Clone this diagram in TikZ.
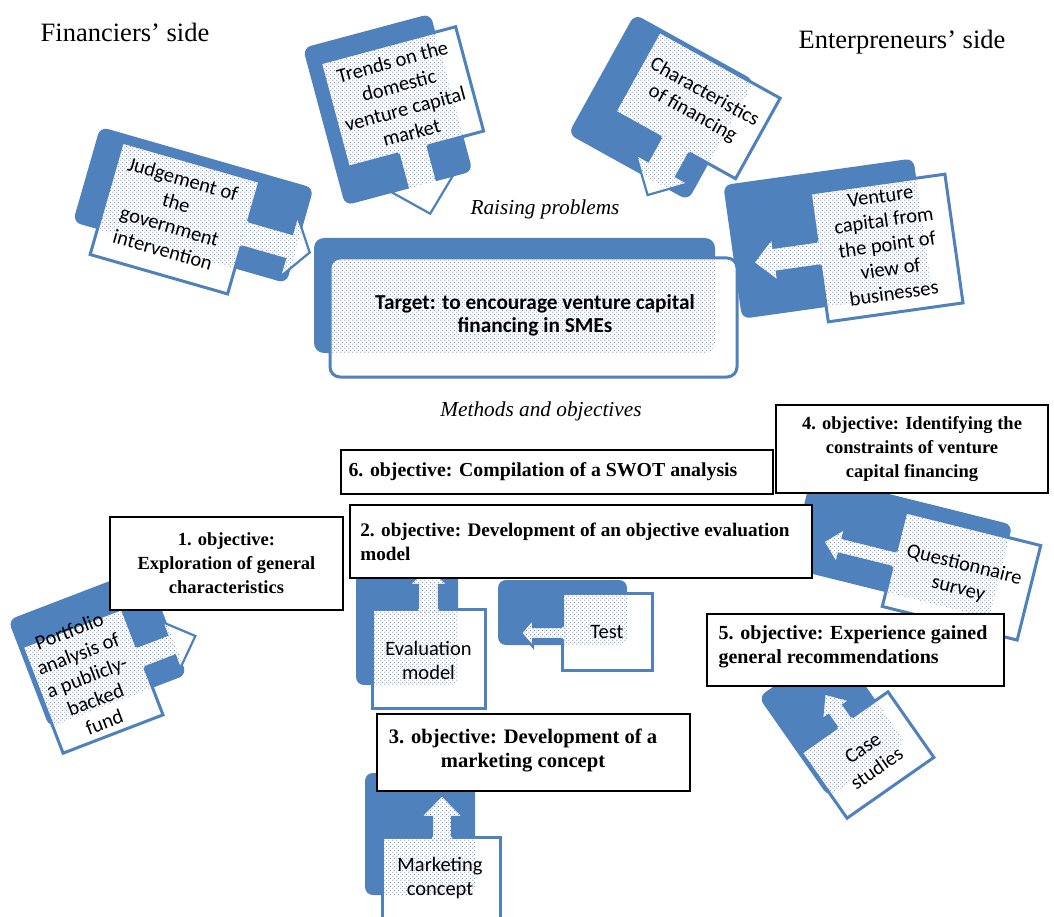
\documentclass[tikz,border=0pt]{standalone}
\usepackage{fontspec}
\setmainfont{Liberation Serif}
\newfontfamily\calfont{Carlito}
\usetikzlibrary{patterns}
\definecolor{bl}{HTML}{4F81BD}
\definecolor{dotc}{HTML}{6E91C9}
\pgfdeclarepatternformonly{mydots}{\pgfqpoint{0pt}{0pt}}{\pgfqpoint{4pt}{4pt}}{\pgfqpoint{4pt}{4pt}}{%
  \pgfpathcircle{\pgfqpoint{1pt}{1pt}}{0.75pt}%
  \pgfpathcircle{\pgfqpoint{3pt}{3pt}}{0.75pt}%
  \pgfusepath{fill}}
\tikzset{
  backbox/.style={fill=bl, rounded corners=8pt},
  frontbox/.style={draw=bl, line width=3pt, fill=white},
  dotfill/.style={pattern=mydots, pattern color=dotc},
  ctext/.style={font=\calfont\fontsize{20.5}{24.5}\selectfont, align=center, inner sep=0pt},
  objbox/.style={draw=black, line width=1.6pt, fill=white, inner sep=0pt, align=center},
  objtext/.style={inner sep=0pt, align=center},
  aline/.style={draw=bl, line width=2.2pt, line join=miter},
  title/.style={font=\fontsize{26.5}{30}\selectfont, inner sep=0pt},
  subtitle/.style={font=\itshape\fontsize{21.3}{24}\selectfont, inner sep=0pt},
}
\newcommand\objfont[1]{\bfseries\fontsize{#1}{24}\selectfont}
\newcommand\arrshape[5]{\path[#1] (-4,-#3) -- ({#2-#5},-#3) -- ({#2-#5},-#4) -- (#2,0) -- ({#2-#5},#4) -- ({#2-#5},#3) -- (-4,#3) -- cycle;}
\newcommand\arroutline[5]{\path[#1] (0,-#3) -- ({#2-#5},-#3) -- ({#2-#5},-#4) -- (#2,0) -- ({#2-#5},#4) -- ({#2-#5},#3) -- (0,#3);}
\newcommand\callout[9]{%
  \begin{scope}[shift={#1},rotate=#2]
    \fill[backbox] #5;
    \filldraw[frontbox] (-#3,-#4) rectangle (#3,#4);
    \begin{scope}[#6]\arrshape{fill=white}#7\end{scope}
    \begin{scope}
      \clip[rounded corners=8pt] #5;
      \fill[dotfill] ({-#3+1.6},{-#4+1.6}) rectangle ({#3-1.6},{#4-1.6});
      \begin{scope}[#6]\arrshape{dotfill}#7\end{scope}
    \end{scope}
    \begin{scope}[#6]\arroutline{aline}#7\end{scope}
    \node[ctext,rotate=#2] #8 {#9};
  \end{scope}}

\begin{document}
\begin{tikzpicture}[x=1pt,y=-1pt]
\useasboundingbox (0,0) rectangle (1054,917);
\fill[white] (0,0) rectangle (1054,917);

% upper callouts
\callout{(175,218)}{-16}{71.5}{58.5}{(-97,-67) rectangle (125,32)}{shift={(71.5,-4)}}{{67.5}{13}{32}{22}}{(judge) at (-3,-3)}{Judgement of\\the\\government\\intervention}
\callout{(402,97)}{15}{70}{54}{(-83,-73) rectangle (49,90)}{shift={(-3,54)},rotate=-90}{{66}{15}{32}{31}}{(trends) at (0,0)}{Trends on the\\domestic\\venture capital\\market}
\callout{(697.5,105)}{-29}{69}{46}{(-99,-49) rectangle (38,88)}{shift={(0,46)},rotate=-90}{{57}{16}{30}{30}}{(charact) at (0,-2)}{Characteristics\\of financing}
\callout{(886.6,248)}{8}{68}{65}{(-153,-85) rectangle (39,50)}{shift={(-68,-4)},rotate=180}{{66}{12}{22}{22}}{(venture) at (1,-3)}{Venture\\capital from\\the point of\\view of\\businesses}

% target
\fill[backbox, rounded corners=10pt] (314,238) rectangle (715,353);
\filldraw[frontbox, rounded corners=10pt] (330,258) rectangle (737,377);
\begin{scope}
  \clip[rounded corners=10pt] (314,238) rectangle (715,353);
  \fill[dotfill] (332,260) rectangle (735,375);
\end{scope}
\node[font=\calfont\bfseries\fontsize{21.3}{23}\selectfont, align=center, inner sep=0pt] (target) at (535,315) {Target: to encourage venture capital\\financing in SMEs};

% lower callouts
\callout{(92.6,680.8)}{21}{53.5}{57}{(-57,-87) rectangle (90,28)}{shift={(53.5,-5)}}{{58.5}{11}{25}{26}}{(portfolio) at (-4,-6)}{Portfolio\\analysis of\\a publicly-\\backed\\fund}
\callout{(428.5,658.5)}{0}{56.5}{49.5}{(-72.5,-93.5) rectangle (29.5,26.5)}{shift={(0,-49.5)},rotate=90}{{42}{10.5}{20}{18}}{(evalm) at (0,2)}{Evaluation\\model}
\callout{(607,631.5)}{0}{45}{38.5}{(-109,-51.5) rectangle (20,13.5)}{shift={(-45,1.5)},rotate=180}{{41}{6}{14}{12}}{(test) at (0,0)}{Test}
\callout{(961.5,576)}{-14}{69.5}{48.7}{(-170,-62) rectangle (37,34)}{shift={(-69.5,0)},rotate=180}{{73}{8}{18}{18}}{(quest) at (0,1)}{Questionnaire\\survey}
\callout{(867.5,755)}{35}{53}{40}{(-56,-110) rectangle (38,12)}{shift={(0,-40)},rotate=90}{{35}{9}{17}{20}}{(cases) at (0,4)}{Case\\studies}
\callout{(441,881)}{0}{59}{44}{(-76,-108) rectangle (34,14)}{shift={(1,-44)},rotate=90}{{42}{10}{21.5}{22}}{(market) at (-1,-3)}{Marketing\\concept}

% objective boxes
\node[objbox, minimum width=432, minimum height=44] (o6) at (557,472) {};
\node[objtext, font=\objfont{19.8}] (o6t) at (543,472) {6. objective: Compilation of a SWOT analysis};
\node[objbox, minimum width=272, minimum height=88, font=\objfont{18.5}] (o4) at (912,449) {4. objective: Identifying the\\constraints of venture\\capital financing};
\node[objbox, minimum width=462, minimum height=73] (o2) at (581,541.5) {};
\node[objtext, align=left, font=\objfont{19.2}] (o2t) at (575,541.5) {2. objective: Development of an objective evaluation\\model};
\node[objbox, minimum width=233, minimum height=93, font=\objfont{18.5}] (o1) at (226.5,563.5) {1. objective:\\Exploration of general\\characteristics};
\node[objbox, minimum width=297, minimum height=72] (o5) at (855.5,650) {};
\node[objtext, align=left, font=\objfont{20}] (o5t) at (853,647) {5. objective: Experience gained\\general recommendations};
\node[objbox, minimum width=313, minimum height=77] (o3) at (533.5,752.5) {};
\node[objtext, font=\objfont{20.6}] (o3t) at (523,751) {3. objective: Development of a\\marketing concept};

% titles
\node[title] (fin) at (125,32) {Financiers’ side};
\node[title] (ent) at (902,42) {Enterpreneurs’ side};
\node[subtitle] (raise) at (545,209) {Raising problems};
\node[subtitle] (meth) at (541,411) {Methods and objectives};
\end{tikzpicture}
\end{document}
